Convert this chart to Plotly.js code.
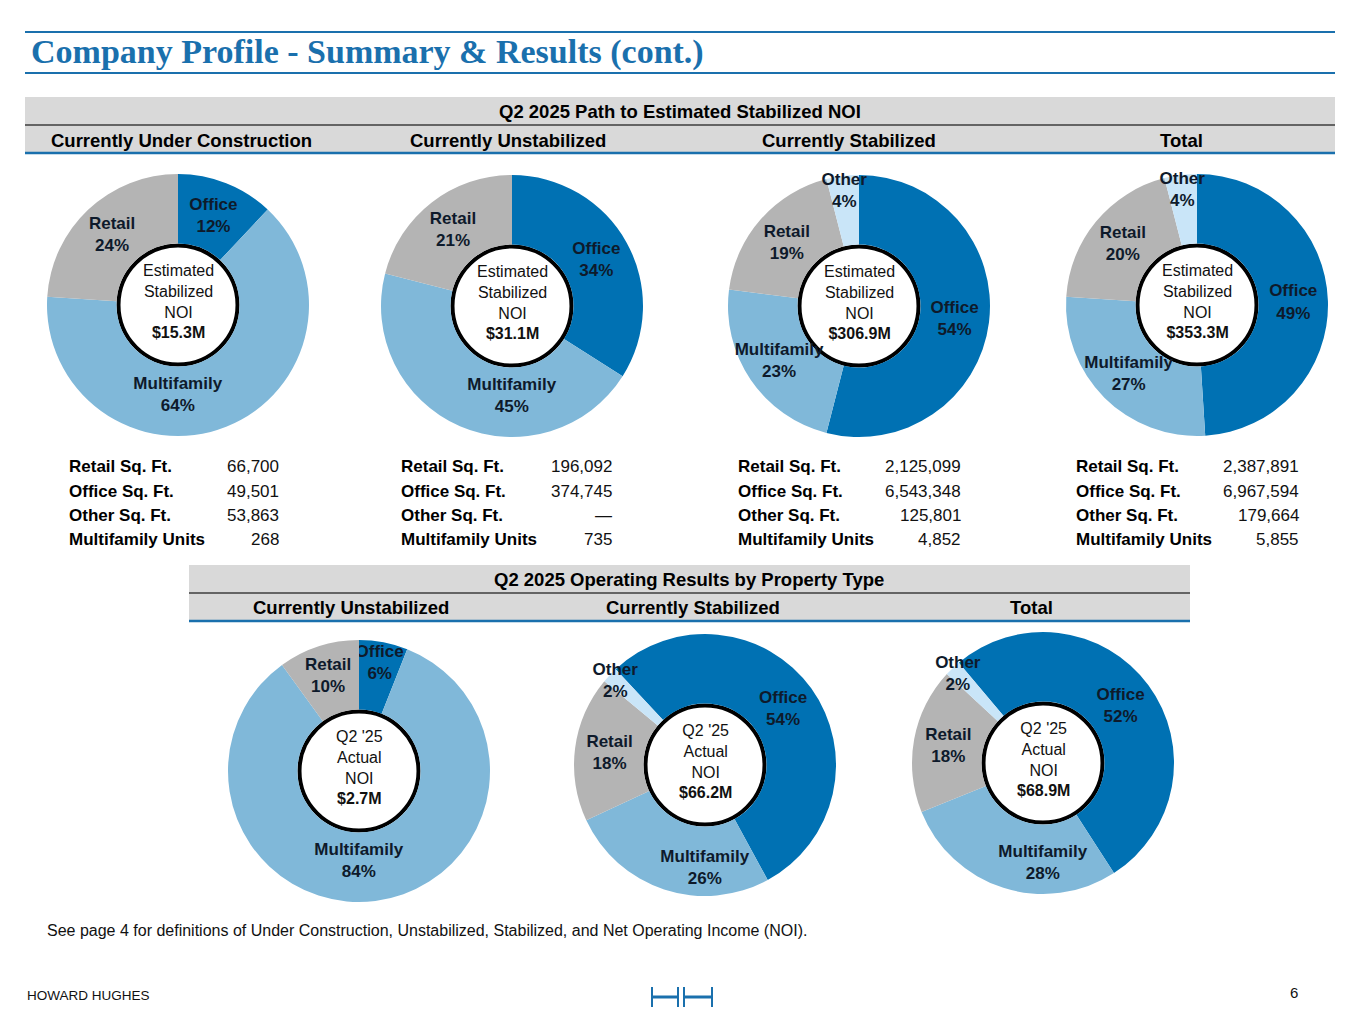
<!DOCTYPE html>
<html>
<head>
<meta charset="utf-8">
<script src="https://cdn.plot.ly/plotly-3.0.1.min.js"></script>
<style>
  html, body { margin: 0; padding: 0; background: #fff; }
  #chart { width: 1365px; height: 1024px; }
</style>
</head>
<body>
<div id="chart"></div>
<script>
// ---------------- DATA ----------------
const pageTitle = 'Company Profile - Summary & Results (cont.)';
const topBandTitle = 'Q2 2025 Path to Estimated Stabilized NOI';
const bottomBandTitle = 'Q2 2025 Operating Results by Property Type';

const topTitles = ['Currently Under Construction', 'Currently Unstabilized', 'Currently Stabilized', 'Total'];
const bottomTitles = ['Currently Unstabilized', 'Currently Stabilized', 'Total'];

const ucLabels = ['Office', 'Multifamily', 'Retail'];
const ucValues = [12, 64, 24];
const unstabLabels = ['Office', 'Multifamily', 'Retail'];
const unstabValues = [34, 45, 21];
const stabLabels = ['Office', 'Multifamily', 'Retail', 'Other'];
const stabValues = [54, 23, 19, 4];
const totalLabels = ['Office', 'Multifamily', 'Retail', 'Other'];
const totalValues = [49, 27, 20, 4];

const actUnstabLabels = ['Office', 'Multifamily', 'Retail'];
const actUnstabValues = [6, 84, 10];
const actStabLabels = ['Office', 'Multifamily', 'Retail', 'Other'];
const actStabValues = [54, 26, 18, 2];
const actTotalLabels = ['Office', 'Multifamily', 'Retail', 'Other'];
const actTotalValues = [52, 28, 18, 2];

const topNOI = ['$15.3M', '$31.1M', '$306.9M', '$353.3M'];
const bottomNOI = ['$2.7M', '$66.2M', '$68.9M'];

const tableRowLabels = ['Retail Sq. Ft.', 'Office Sq. Ft.', 'Other Sq. Ft.', 'Multifamily Units'];
const ucStats = ['66,700', '49,501', '53,863', '268'];
const unstabStats = ['196,092', '374,745', '\u2014', '735'];
const stabStats = ['2,125,099', '6,543,348', '125,801', '4,852'];
const totalStats = ['2,387,891', '6,967,594', '179,664', '5,855'];

const footnote = 'See page 4 for definitions of Under Construction, Unstabilized, Stabilized, and Net Operating Income (NOI).';
const footerLeft = 'HOWARD HUGHES';
const pageNumber = '6';

// ---------------- STYLE / LAYOUT ----------------
const W = 1365, H = 1024;
const px = x => x / W;
const py = y => 1 - y / H;
const FONT = 'Liberation Sans, Arial, Helvetica, sans-serif';
const BLUE = '#1a70ad';
const segColors = { Office: '#0071b3', Multifamily: '#80b8d9', Retail: '#b4b4b4', Other: '#c9e5f8' };
const LABEL_COLOR = '#0e1a2b';
const R = 131;

const topCenters = [[178, 305], [512, 306], [859, 306], [1197, 305]];
const bottomCenters = [[359, 771], [705, 765], [1043, 763]];
const topRotations = [0, 0, 0, 0];
const bottomRotations = [0, -43, -40];

const topSets = [[ucLabels, ucValues], [unstabLabels, unstabValues], [stabLabels, stabValues], [totalLabels, totalValues]];
const bottomSets = [[actUnstabLabels, actUnstabValues], [actStabLabels, actStabValues], [actTotalLabels, actTotalValues]];

function makePie(labels, values, c, rot) {
  return {
    type: 'pie',
    labels: labels,
    values: values,
    sort: false,
    direction: 'clockwise',
    rotation: rot,
    hole: 0.47,
    marker: { colors: labels.map(l => segColors[l]), line: { width: 0 } },
    texttemplate: '%{label}<br>%{value}%',
    textposition: 'inside',
    insidetextorientation: 'horizontal',
    textfont: { family: FONT, size: 17, color: LABEL_COLOR, weight: 'bold' },
    hoverinfo: 'label+value',
    showlegend: false,
    domain: { x: [px(c[0] - R), px(c[0] + R)], y: [py(c[1] + R), py(c[1] - R)] }
  };
}

const data = [];
topSets.forEach((s, i) => data.push(makePie(s[0], s[1], topCenters[i], topRotations[i])));
bottomSets.forEach((s, i) => data.push(makePie(s[0], s[1], bottomCenters[i], bottomRotations[i])));

const shapes = [];
const annotations = [];
function line(x0, y0, x1, y1, color, width) {
  shapes.push({ type: 'line', xref: 'paper', yref: 'paper', x0: px(x0), y0: py(y0), x1: px(x1), y1: py(y1), line: { color: color, width: width }, layer: 'below' });
}
function rect(x0, y0, x1, y1, fill) {
  shapes.push({ type: 'rect', xref: 'paper', yref: 'paper', x0: px(x0), y0: py(y0), x1: px(x1), y1: py(y1), fillcolor: fill, line: { width: 0 }, layer: 'below' });
}
function text(t, x, y, opts) {
  opts = opts || {};
  annotations.push({
    text: t, xref: 'paper', yref: 'paper', x: px(x), y: py(y), showarrow: false,
    xanchor: opts.xanchor || 'center', yanchor: opts.yanchor || 'middle', align: opts.align || 'center',
    font: { family: opts.family || FONT, size: opts.size || 15, color: opts.color || '#000', weight: opts.weight || 'normal' }
  });
}

// Title
line(25, 32, 1335, 32, BLUE, 2);
line(25, 73, 1335, 73, BLUE, 2);
text(pageTitle, 29, 52, { xanchor: 'left', size: 34, color: BLUE, weight: 'bold', family: 'Liberation Serif, Times New Roman, serif' });

// Top band
rect(25, 97, 1335, 153, '#d9d9d9');
line(25, 125, 1335, 125, '#3c3c3c', 1.5);
line(25, 153, 1335, 153, BLUE, 2.5);
text(topBandTitle, 680, 111, { size: 18.5, weight: 'bold' });
const topHeaderX = [181, 508, 849, 1181];
topTitles.forEach((t, i) => text(t, topHeaderX[i], 140, { size: 18.5, weight: 'bold' }));

// Bottom band
rect(189, 565, 1190, 621, '#d9d9d9');
line(189, 593, 1190, 593, '#3c3c3c', 1.5);
line(189, 621, 1190, 621, BLUE, 2.5);
text(bottomBandTitle, 689, 579, { size: 18.5, weight: 'bold' });
const bottomHeaderX = [351, 693, 1031];
bottomTitles.forEach((t, i) => text(t, bottomHeaderX[i], 607, { size: 18.5, weight: 'bold' }));

// Center circles and texts
function centerCircle(c, lines) {
  const r = 59.5;
  shapes.push({ type: 'circle', xref: 'paper', yref: 'paper', x0: px(c[0] - r), x1: px(c[0] + r), y0: py(c[1] + r), y1: py(c[1] - r), fillcolor: '#fff', line: { color: '#000', width: 4 }, layer: 'below' });
  text(lines, c[0], c[1] - 4, { size: 16, color: '#111' });
}
topCenters.forEach((c, i) => centerCircle(c, 'Estimated<br>Stabilized<br>NOI<br><b>' + topNOI[i] + '</b>'));
bottomCenters.forEach((c, i) => centerCircle(c, "Q2 '25<br>Actual<br>NOI<br><b>" + bottomNOI[i] + '</b>'));

// Tables
const tableLabelX = [67, 399, 736, 1074];
const tableValueX = [281, 614, 963, 1301];
const tableRowY = [466, 491, 515, 539];
const tableStats = [ucStats, unstabStats, stabStats, totalStats];
tableStats.forEach((stats, i) => {
  tableRowLabels.forEach((lab, j) => {
    text(lab, tableLabelX[i], tableRowY[j], { xanchor: 'left', size: 17, weight: 'bold', color: '#000' });
    text(stats[j], tableValueX[i], tableRowY[j], { xanchor: 'right', size: 17, color: '#111' });
  });
});

// Footnote & footer
text(footnote, 45, 930, { xanchor: 'left', size: 16, color: '#111' });
text(footerLeft, 25, 995, { xanchor: 'left', size: 13.5, color: '#111' });
text(pageNumber, 1300, 992, { xanchor: 'right', size: 15, color: '#111' });

// Logo
line(652, 987, 652, 1007, BLUE, 2);
line(678, 987, 678, 1007, BLUE, 2);
line(684, 987, 684, 1007, BLUE, 2);
line(712, 987, 712, 1007, BLUE, 2);
line(652, 997, 678, 997, BLUE, 3);
line(684, 997, 712, 997, BLUE, 3);

const layout = {
  width: W, height: H, autosize: false,
  margin: { l: 0, r: 0, t: 0, b: 0, pad: 0 },
  paper_bgcolor: '#fff', plot_bgcolor: '#fff',
  showlegend: false,
  uniformtext: { mode: 'show', minsize: 17 },
  shapes: shapes,
  annotations: annotations,
  font: { family: FONT }
};

Plotly.newPlot('chart', data, layout, { displayModeBar: false, staticPlot: true });
</script>
</body>
</html>
